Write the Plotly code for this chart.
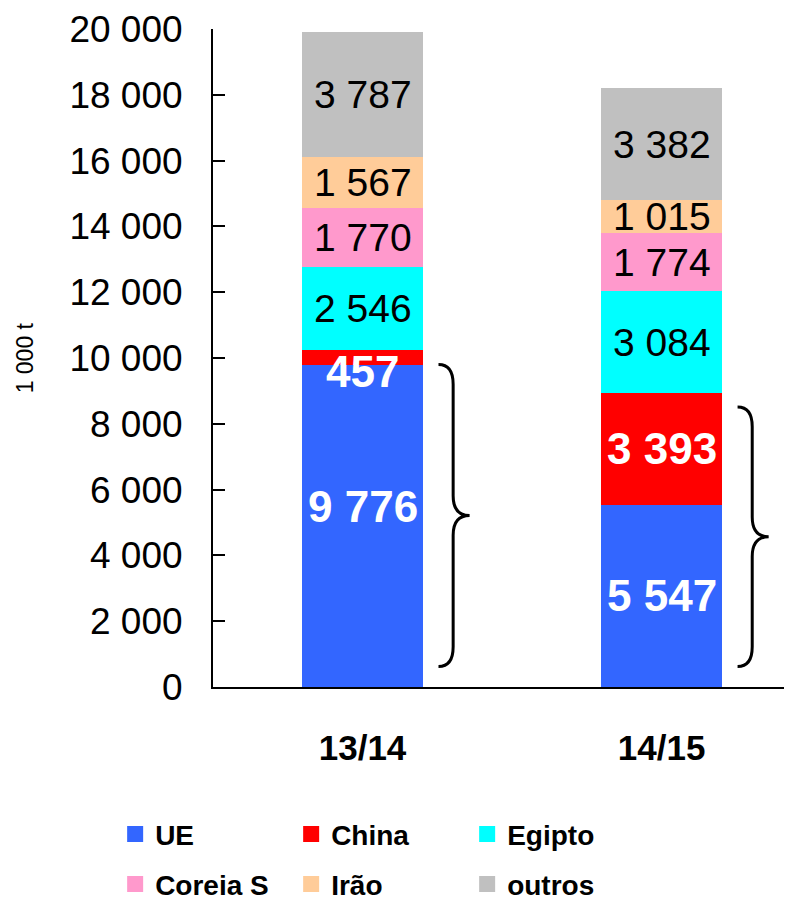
import plotly.graph_objects as go

# data (1 000 t)
seasons = ["13/14", "14/15"]
origins = ["UE", "China", "Egipto", "Coreia S", "Irão", "outros"]
ue = [9776, 5547]
china = [457, 3393]
egipto = [2546, 3084]
coreia = [1770, 1774]
irao = [1567, 1015]
outros = [3787, 3382]

colors = ["#3366FF", "#FF0000", "#00FFFF", "#FF99CC", "#FFCC99", "#C0C0C0"]
series = [ue, china, egipto, coreia, irao, outros]
xpos = [0, 1]
bar_w = 0.405

fig = go.Figure()
for name, vals, col in zip(origins, series, colors):
    fig.add_trace(go.Bar(x=xpos, y=vals, name=name, marker_color=col,
                         marker_line_width=0, width=bar_w, showlegend=False))

# legend entries with bigger swatches, split over two rows
for i, (name, col) in enumerate(zip(origins, colors)):
    fig.add_trace(go.Scatter(x=[None], y=[None], mode="markers", name=name,
                             marker=dict(symbol="square", size=20, color=col),
                             legend="legend" if i < 3 else "legend2"))


def fmt(v):
    return f"{v:,}".replace(",", " ")


# labels inside segments
white = {"UE", "China"}
shift = {("UE", 0): 600}
for j, x in enumerate(xpos):
    base = 0
    for name, vals in zip(origins, series):
        v = vals[j]
        y = base + v / 2 + shift.get((name, j), 0)
        if (name, j) == ("China", 0):
            y = base - 180  # thin slice: label sits just below it
        bold = name in white
        fig.add_annotation(x=x, y=y, text=fmt(v), showarrow=False,
                           font=dict(family="Arial", size=44 if bold else 39,
                                     color="white" if bold else "black",
                                     weight="bold" if bold else "normal"))
        base += v

# braces to the right of UE + China
for j, x in enumerate(xpos):
    top = ue[j] + china[j] - 430
    bot = 620
    mid = (top + bot) / 2
    d = 600
    x0, x1, x2 = x + 0.254, x + 0.303, x + 0.358
    path = (f"M {x0},{top} Q {x1},{top} {x1},{top - d} L {x1},{mid + d} "
            f"Q {x1},{mid} {x2},{mid} Q {x1},{mid} {x1},{mid - d} "
            f"L {x1},{bot + d} Q {x1},{bot} {x0},{bot}")
    fig.add_shape(type="path", path=path, xref="x", yref="y",
                  line=dict(color="black", width=3))

fig.add_annotation(xref="paper", yref="paper", x=-0.35, y=0.50, text="1 000 t",
                   textangle=-90, showarrow=False,
                   font=dict(family="Arial", size=23, color="black"))

leg_font = dict(family="Arial", size=28, weight="bold")
fig.update_layout(
    width=784, height=902,
    margin=dict(l=205, r=0, t=21, b=221),
    barmode="stack",
    plot_bgcolor="white", paper_bgcolor="white",
    separators=", ",
    font=dict(family="Arial", color="black"),
    xaxis=dict(range=[-0.5, 1.436], tickvals=xpos, ticktext=seasons,
               showgrid=False, zeroline=False, showline=True, linecolor="black",
               linewidth=2, ticks="", ticklabelstandoff=29,
               tickfont=dict(size=35, weight="bold")),
    yaxis=dict(range=[0, 20000], dtick=2000, showgrid=False, zeroline=False,
               showline=True, linecolor="black", linewidth=2, ticks="inside",
               ticklen=12, tickwidth=2, tickcolor="black", tickformat=",d",
               separatethousands=True, ticklabelstandoff=21, tickfont=dict(size=37)),
    legend=dict(orientation="h", x=-0.169, xanchor="left", y=-0.224, yanchor="middle",
                entrywidth=131, font=leg_font, traceorder="normal"),
    legend2=dict(orientation="h", x=-0.169, xanchor="left", y=-0.300, yanchor="middle",
                 entrywidth=131, font=leg_font, traceorder="normal"),
)

fig.write_html("out.html")
